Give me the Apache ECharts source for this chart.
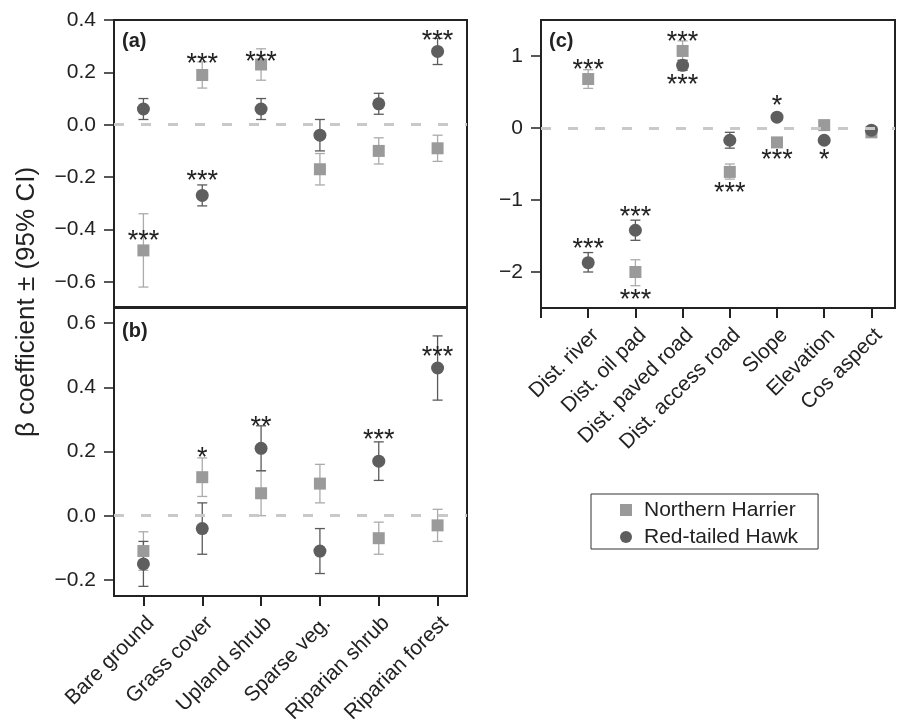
<!DOCTYPE html>
<html>
<head>
<meta charset="utf-8">
<script src="https://cdn.jsdelivr.net/npm/echarts@6/dist/echarts.min.js"></script>
<style>
html,body{margin:0;padding:0;background:#fff;}
#chart{width:898px;height:719px;}
</style>
</head>
<body>
<div id="chart"></div>
<script>
// ---------- data ----------
const habitatCats = ['Bare ground', 'Grass cover', 'Upland shrub', 'Sparse veg.', 'Riparian shrub', 'Riparian forest'];
const topoCats = ['Dist. river', 'Dist. oil pad', 'Dist. paved road', 'Dist. access road', 'Slope', 'Elevation', 'Cos aspect'];
const seriesNames = ['Northern Harrier', 'Red-tailed Hawk'];

// panel (a)
const aNH = [-0.48, 0.19, 0.23, -0.17, -0.10, -0.09];
const aNHLo = [-0.62, 0.14, 0.17, -0.23, -0.15, -0.14];
const aNHHi = [-0.34, 0.24, 0.29, -0.11, -0.05, -0.04];
const aRTH = [0.06, -0.27, 0.06, -0.04, 0.08, 0.28];
const aRTHLo = [0.02, -0.31, 0.02, -0.10, 0.04, 0.23];
const aRTHHi = [0.10, -0.23, 0.10, 0.02, 0.12, 0.33];
const aNHSig = ['***', '***', '***', '', '', ''];
const aNHSigY = [-0.42, 0.255, 0.265, null, null, null];
const aRTHSig = ['', '***', '', '', '', '***'];
const aRTHSigY = [null, -0.19, null, null, null, 0.345];

// panel (b)
const bNH = [-0.11, 0.12, 0.07, 0.10, -0.07, -0.03];
const bNHLo = [-0.17, 0.06, 0.00, 0.04, -0.12, -0.08];
const bNHHi = [-0.05, 0.18, 0.14, 0.16, -0.02, 0.02];
const bRTH = [-0.15, -0.04, 0.21, -0.11, 0.17, 0.46];
const bRTHLo = [-0.22, -0.12, 0.14, -0.18, 0.11, 0.36];
const bRTHHi = [-0.08, 0.04, 0.28, -0.04, 0.23, 0.56];
const bNHSig = ['', '*', '', '', '', ''];
const bNHSigY = [null, 0.20, null, null, null, null];
const bRTHSig = ['', '', '**', '', '***', '***'];
const bRTHSigY = [null, null, 0.295, null, 0.255, 0.515];

// panel (c)
const cNH = [0.68, -2.00, 1.07, -0.61, -0.20, 0.04, -0.06];
const cNHLo = [0.55, -2.19, 0.94, -0.71, -0.25, 0.00, -0.10];
const cNHHi = [0.81, -1.83, 1.21, -0.50, -0.15, 0.08, -0.02];
const cRTH = [-1.87, -1.42, 0.87, -0.17, 0.15, -0.17, -0.03];
const cRTHLo = [-2.00, -1.56, 0.80, -0.28, 0.11, -0.21, -0.07];
const cRTHHi = [-1.73, -1.28, 0.94, -0.06, 0.19, -0.13, 0.01];
const cNHSig = ['***', '***', '***', '***', '***', '', ''];
const cNHSigY = [0.90, -2.30, 1.28, -0.82, -0.35, null, null];
const cRTHSig = ['***', '***', '***', '', '*', '*', ''];
const cRTHSigY = [-1.59, -1.14, 0.68, null, 0.40, -0.36, null];

// tick values
const abTicksA = [-0.6, -0.4, -0.2, 0, 0.2, 0.4];
const abTicksB = [-0.2, 0, 0.2, 0.4, 0.6];
const cTicksY = [-2, -1, 0, 1];
const cTicksX = [0, 1, 2, 3, 4, 5, 6, 7];
const cLabelX = [1, 2, 3, 4, 5, 6, 7];

// ---------- styling ----------
const FONT = '"Liberation Sans", Arial, Helvetica, sans-serif';
const NH_COLOR = '#9a9a9a';
const RTH_COLOR = '#5e5e5e';
const NH_BAR = '#ababab';
const RTH_BAR = '#5a5a5a';
const AXIS_COLOR = '#222';

function fmtNum(v, dec) {
  const s = Math.abs(v).toFixed(dec);
  return (v < 0 ? '\u2212' : '') + s;
}

function errorBarSeries(name, xi, yi, lo, hi, xs, color) {
  return {
    type: 'custom', name: name + ' CI', xAxisIndex: xi, yAxisIndex: yi, z: 2,
    silent: true,
    data: lo.map((l, i) => [xs[i], l, hi[i]]),
    renderItem: function (params, api) {
      const x = api.value(0);
      const p1 = api.coord([x, api.value(1)]);
      const p2 = api.coord([x, api.value(2)]);
      const w = 5;
      const st = { stroke: color, lineWidth: 1.3 };
      return {
        type: 'group',
        children: [
          { type: 'line', shape: { x1: p1[0], y1: p1[1], x2: p2[0], y2: p2[1] }, style: st },
          { type: 'line', shape: { x1: p1[0] - w, y1: p1[1], x2: p1[0] + w, y2: p1[1] }, style: st },
          { type: 'line', shape: { x1: p2[0] - w, y1: p2[1], x2: p2[0] + w, y2: p2[1] }, style: st }
        ]
      };
    }
  };
}

function pointSeries(name, xi, yi, vals, xs, isNH) {
  return {
    type: 'scatter', name: name, xAxisIndex: xi, yAxisIndex: yi, z: 3,
    symbol: isNH ? 'rect' : 'circle',
    symbolSize: isNH ? 12 : 13,
    itemStyle: { color: isNH ? NH_COLOR : RTH_COLOR, opacity: 1 },
    data: vals.map((v, i) => [xs[i], v])
  };
}

function sigSeries(xi, yi, sig, sigY, xs, withZero) {
  const items = [];
  const texts = [];
  sig.forEach((t, i) => {
    if (t && sigY[i] !== null) { items.push([xs[i], sigY[i]]); texts.push(t); }
  });
  const s = {
    type: 'custom', xAxisIndex: xi, yAxisIndex: yi, z: 5, silent: true,
    data: items,
    renderItem: function (params, api) {
      const p = api.coord([api.value(0), api.value(1)]);
      return {
        type: 'text',
        x: p[0], y: p[1] + 7,
        style: {
          text: texts[params.dataIndex],
          font: '27px ' + FONT,
          fill: '#222',
          align: 'center',
          verticalAlign: 'middle'
        }
      };
    }
  };
  if (withZero) {
    s.markLine = {
      silent: true, symbol: 'none', z: 10,
      label: { show: false },
      lineStyle: { color: '#c9c9c9', width: 3, type: [10, 17] },
      data: [{ yAxis: 0 }]
    };
  }
  return s;
}

const catIdx6 = habitatCats.map((c, i) => i);
const xIdx7 = topoCats.map((c, i) => i + 1);

const gridCommon = { show: true, borderColor: AXIS_COLOR, borderWidth: 2, backgroundColor: 'transparent', containLabel: false, outerBoundsMode: 'none' };

function yAxisDef(gi, min, max, ticks, dec) {
  return {
    type: 'value', gridIndex: gi, min: min, max: max,
    splitLine: { show: false },
    axisLine: { show: false, onZero: false },
    axisTick: { show: true, length: 10, inside: false, customValues: ticks, lineStyle: { color: AXIS_COLOR, width: 1.5 } },
    axisLabel: {
      show: true, customValues: ticks, margin: 18,
      fontSize: 21, fontFamily: FONT, color: '#222',
      formatter: v => fmtNum(v, dec)
    }
  };
}

const labelStyle = {
  fontSize: 21, fontFamily: FONT, color: '#222',
  rotate: 45, align: 'right', verticalAlign: 'top', padding: [6, 6, 0, 0], margin: 8
};

const option = {
  animation: false,
  backgroundColor: '#fff',
  textStyle: { fontFamily: FONT },
  grid: [
    Object.assign({ left: 114, top: 20, width: 353, height: 288 }, gridCommon),
    Object.assign({ left: 114, top: 307, width: 353, height: 289 }, gridCommon),
    Object.assign({ left: 541, top: 20, width: 354, height: 288 }, gridCommon)
  ],
  xAxis: [
    { type: 'category', gridIndex: 0, data: habitatCats, boundaryGap: true, position: 'bottom',
      axisLine: { show: false, onZero: false }, axisTick: { show: false }, axisLabel: { show: false }, splitLine: { show: false } },
    { type: 'category', gridIndex: 1, data: habitatCats, boundaryGap: true, position: 'bottom',
      axisLine: { show: false, onZero: false },
      axisTick: { show: true, alignWithLabel: true, length: 10, lineStyle: { color: AXIS_COLOR, width: 2 } },
      axisLabel: Object.assign({ interval: 0 }, labelStyle),
      splitLine: { show: false } },
    { type: 'value', gridIndex: 2, min: 0, max: 7.5, position: 'bottom',
      axisLine: { show: false, onZero: false },
      axisTick: { show: true, length: 10, customValues: cTicksX, lineStyle: { color: AXIS_COLOR, width: 2 } },
      axisLabel: Object.assign({ customValues: cLabelX, formatter: v => topoCats[Math.round(v) - 1] || '' }, labelStyle),
      splitLine: { show: false } }
  ],
  yAxis: [
    yAxisDef(0, -0.7, 0.4, abTicksA, 1),
    yAxisDef(1, -0.25, 0.65, abTicksB, 1),
    yAxisDef(2, -2.5, 1.5, cTicksY, 0)
  ],
  legend: {
    show: true,
    orient: 'vertical',
    left: 591, top: 494,
    data: seriesNames,
    itemWidth: 12, itemHeight: 12, itemGap: 3,
    padding: [4, 20, 0, 29],
    borderColor: '#333', borderWidth: 1,
    textStyle: { fontSize: 21, fontFamily: FONT, color: '#222', lineHeight: 24, padding: [0, 0, 0, 7] },
    selectedMode: false
  },
  graphic: [
    { type: 'text', x: 27, y: 302, rotation: Math.PI / 2,
      style: { text: '\u03B2 coefficient \u00B1 (95% CI)', font: '26px ' + FONT, fill: '#222', align: 'center', verticalAlign: 'middle' } },
    { type: 'text', x: 122, y: 41, style: { text: '(a)', font: 'bold 20px ' + FONT, fill: '#222', align: 'left', verticalAlign: 'middle' } },
    { type: 'text', x: 122, y: 331, style: { text: '(b)', font: 'bold 20px ' + FONT, fill: '#222', align: 'left', verticalAlign: 'middle' } },
    { type: 'text', x: 549, y: 41, style: { text: '(c)', font: 'bold 20px ' + FONT, fill: '#222', align: 'left', verticalAlign: 'middle' } }
  ],
  series: [
    // panel a
    errorBarSeries(seriesNames[0], 0, 0, aNHLo, aNHHi, catIdx6, NH_BAR),
    pointSeries(seriesNames[0], 0, 0, aNH, catIdx6, true),
    errorBarSeries(seriesNames[1], 0, 0, aRTHLo, aRTHHi, catIdx6, RTH_BAR),
    pointSeries(seriesNames[1], 0, 0, aRTH, catIdx6, false),
    sigSeries(0, 0, aNHSig, aNHSigY, catIdx6, true),
    sigSeries(0, 0, aRTHSig, aRTHSigY, catIdx6, false),
    // panel b
    errorBarSeries(seriesNames[0], 1, 1, bNHLo, bNHHi, catIdx6, NH_BAR),
    pointSeries(seriesNames[0], 1, 1, bNH, catIdx6, true),
    errorBarSeries(seriesNames[1], 1, 1, bRTHLo, bRTHHi, catIdx6, RTH_BAR),
    pointSeries(seriesNames[1], 1, 1, bRTH, catIdx6, false),
    sigSeries(1, 1, bNHSig, bNHSigY, catIdx6, true),
    sigSeries(1, 1, bRTHSig, bRTHSigY, catIdx6, false),
    // panel c
    errorBarSeries(seriesNames[0], 2, 2, cNHLo, cNHHi, xIdx7, NH_BAR),
    pointSeries(seriesNames[0], 2, 2, cNH, xIdx7, true),
    errorBarSeries(seriesNames[1], 2, 2, cRTHLo, cRTHHi, xIdx7, RTH_BAR),
    pointSeries(seriesNames[1], 2, 2, cRTH, xIdx7, false),
    sigSeries(2, 2, cNHSig, cNHSigY, xIdx7, true),
    sigSeries(2, 2, cRTHSig, cRTHSigY, xIdx7, false)
  ]
};

const chart = echarts.init(document.getElementById('chart'), null, { renderer: 'canvas' });
chart.setOption(option);
</script>
</body>
</html>
